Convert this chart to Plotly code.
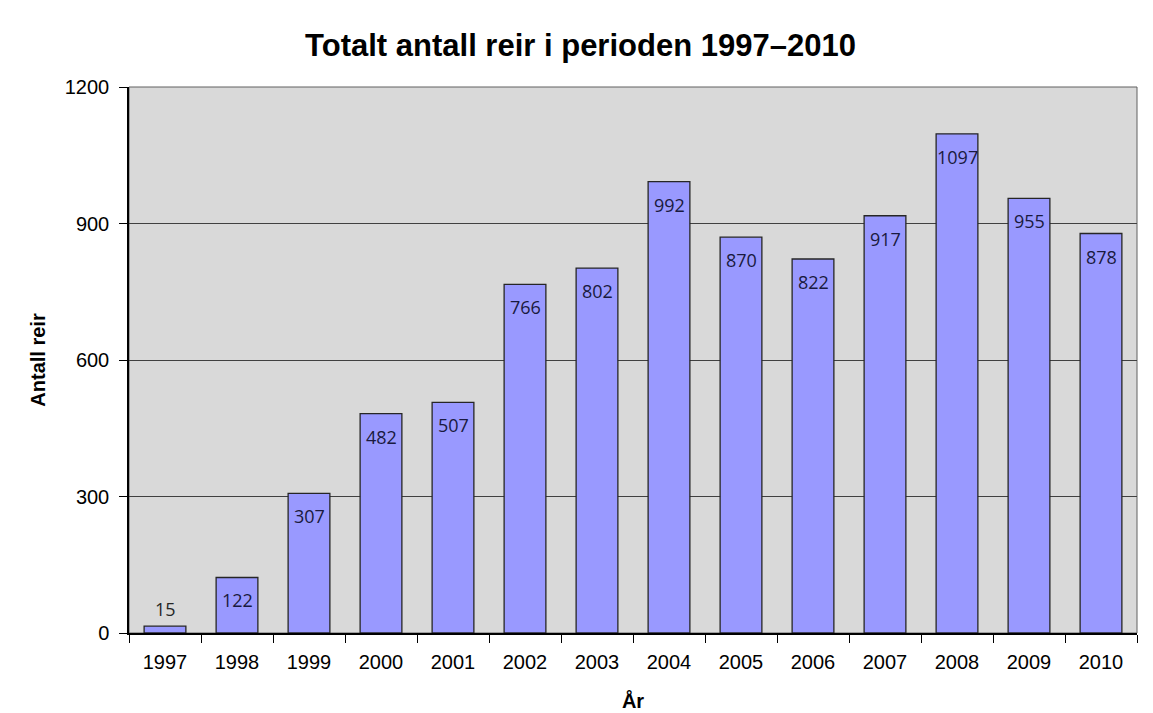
import plotly.graph_objects as go

years = ["1997", "1998", "1999", "2000", "2001", "2002", "2003",
         "2004", "2005", "2006", "2007", "2008", "2009", "2010"]
nests = [15, 122, 307, 482, 507, 766, 802, 992, 870, 822, 917, 1097, 955, 878]

LABEL_FONT = "Open Sans, Noto Sans, sans-serif"

fig = go.Figure(
    go.Bar(
        x=years,
        y=nests,
        marker=dict(color="#9999FF", line=dict(color="#262626", width=1.3)),
        width=0.58,
        hoverinfo="x+y",
    )
)

# value labels: inside the top of the bar, above it when the bar is too short
# (category axis: numeric-looking names would be read as indices, so use the index)
for i, v in enumerate(nests):
    inside = v >= 60
    fig.add_annotation(
        x=i, y=v,
        xref="x", yref="y",
        text=str(v),
        showarrow=False,
        yanchor="top" if inside else "bottom",
        yshift=-9 if inside else 3,
        font=dict(family=LABEL_FONT, size=18, color="#1a1a40" if inside else "#262626"),
    )

# page body adds an 8px offset, so the figure is a bit smaller than the window
fig.update_layout(
    width=1145,
    height=705,
    title=dict(
        text="<b>Totalt antall reir i perioden 1997\u20132010</b>",
        x=0.5, xanchor="center", y=0.948, yanchor="middle",
        font=dict(family="Liberation Sans, Arial, sans-serif", size=31, color="#000000"),
    ),
    font=dict(family="Liberation Sans, Arial, sans-serif", size=20, color="#000000"),
    paper_bgcolor="#FFFFFF",
    plot_bgcolor="#D9D9D9",
    margin=dict(l=121, r=16, t=79, b=80),
    showlegend=False,
    bargap=0.42,
)

fig.update_xaxes(
    type="category",
    categoryorder="array", categoryarray=years,
    title=dict(text="<b>År</b>", standoff=22, font=dict(size=20)),
    showline=True, linecolor="#000000", linewidth=1.5,
    ticks="outside", ticklen=8, tickcolor="#000000",
    tickson="boundaries", showgrid=False, tickangle=0,
    ticklabelstandoff=10, automargin=False,
)
fig.update_yaxes(
    title=dict(text="<b>Antall reir</b>", standoff=14, font=dict(size=20)),
    range=[0, 1200], tickvals=[0, 300, 600, 900, 1200],
    showline=True, linecolor="#000000", linewidth=1.5,
    ticks="outside", ticklen=8, tickcolor="#000000",
    showgrid=True, gridcolor="#404040", gridwidth=1,
    zeroline=False, mirror=False,
    ticklabelstandoff=6, automargin=False,
)

# right and top frame of the plot area
fig.add_shape(type="rect", xref="paper", yref="paper", x0=0, x1=1, y0=0, y1=1,
              line=dict(color="#606060", width=1), layer="below")

fig.write_html("out.html")
